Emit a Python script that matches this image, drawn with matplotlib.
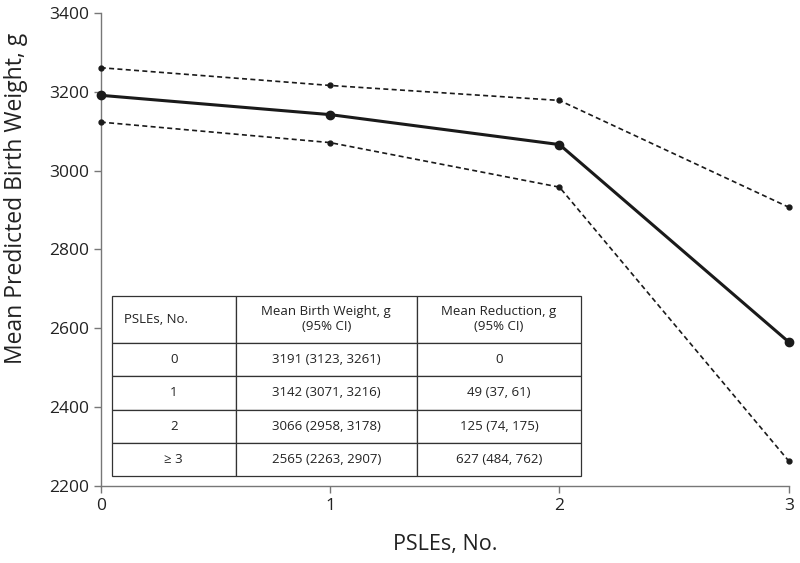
import matplotlib
matplotlib.use("Agg")
import matplotlib.pyplot as plt

plt.rcParams['font.family'] = ['Open Sans', 'DejaVu Sans']

psles = [0, 1, 2, 3]
mean_bw = [3191, 3142, 3066, 2565]
ci_low = [3123, 3071, 2958, 2263]
ci_high = [3261, 3216, 3178, 2907]

table_header = ["PSLEs, No.", "Mean Birth Weight, g\n(95% CI)", "Mean Reduction, g\n(95% CI)"]
table_rows = [
    ["0", "3191 (3123, 3261)", "0"],
    ["1", "3142 (3071, 3216)", "49 (37, 61)"],
    ["2", "3066 (2958, 3178)", "125 (74, 175)"],
    ["\u2265 3", "2565 (2263, 2907)", "627 (484, 762)"],
]

fig = plt.figure(figsize=(8, 5.63), dpi=100)
ax = fig.add_axes([0.126, 0.137, 0.86, 0.840])

line_col = "#1a1a1a"
ax.plot(psles, ci_high, linestyle=(0, (3, 2)), color=line_col, lw=1.2,
        marker='o', markersize=3.5, clip_on=False, zorder=3)
ax.plot(psles, ci_low, linestyle=(0, (3, 2)), color=line_col, lw=1.2,
        marker='o', markersize=3.5, clip_on=False, zorder=3)
ax.plot(psles, mean_bw, linestyle='-', color=line_col, lw=2.2,
        marker='o', markersize=6, clip_on=False, zorder=4)

ax.set_xlim(0, 3)
ax.set_ylim(2200, 3400)
ax.set_xticks([0, 1, 2, 3])
ax.set_yticks([2200, 2400, 2600, 2800, 3000, 3200, 3400])
for s in ['top', 'right']:
    ax.spines[s].set_visible(False)
for s in ['left', 'bottom']:
    ax.spines[s].set_color('#777777')
    ax.spines[s].set_linewidth(1.0)
ax.tick_params(axis='both', colors='#777777', labelcolor='#222222',
               labelsize=12.5, length=5, width=1)
ax.tick_params(axis='x', pad=4)
ax.set_xlabel("PSLEs, No.", fontsize=15.5, color='#222222', labelpad=14)
ax.set_ylabel("Mean Predicted Birth Weight, g", fontsize=16.5, color='#222222')
ax.yaxis.set_label_coords(-0.106, 0.607)

tbl = ax.table(cellText=table_rows, colLabels=table_header,
               cellLoc='center', colWidths=[0.264, 0.386, 0.35],
               bbox=[0.016, 0.021, 0.682, 0.381])
tbl.auto_set_font_size(False)
tbl.set_fontsize(9.5)
for (r, c), cell in tbl.get_celld().items():
    cell.set_edgecolor('#333333')
    cell.set_linewidth(0.9)
    cell.set_facecolor('white')
    cell.get_text().set_color('#222222')
    if r == 0:
        cell.set_height(47)
    else:
        cell.set_height(33)
tbl[0, 0].get_text().set_ha('left')
tbl[0, 0]._loc = 'left'
tbl.set_zorder(5)

fig.savefig("out.png", dpi=100)
